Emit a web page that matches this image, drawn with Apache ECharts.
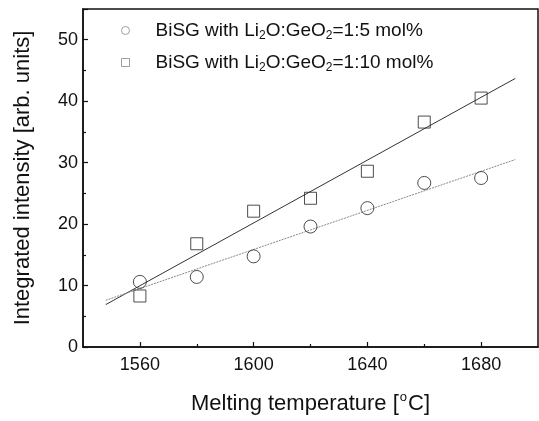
<!DOCTYPE html>
<html>
<head>
<meta charset="utf-8">
<script src="https://cdn.jsdelivr.net/npm/echarts@6/dist/echarts.min.js"></script>
<style>html,body{margin:0;padding:0;background:#fff}#c{width:539px;height:421px}</style>
</head>
<body>
<div id="c"></div>
<script>
var temps = [1560, 1580, 1600, 1620, 1640, 1660, 1680];
var ratio5 = [10.6, 11.4, 14.75, 19.6, 22.6, 26.7, 27.5];
var ratio10 = [8.3, 16.8, 22.1, 24.2, 28.6, 36.6, 40.5];
var fitX = [1548, 1692];
var fit5 = [7.6, 30.5];
var fit10 = [6.9, 43.7];
var xMajorTicks = [1560, 1600, 1640, 1680];
var xMinorTicks = [1580, 1620, 1660];
var seriesNames = ['BiSG with Li2O:GeO2=1:5 mol%', 'BiSG with Li2O:GeO2=1:10 mol%'];
var legendRich = ['BiSG with Li{sub|2}O:GeO{sub|2}=1:5 mol%', 'BiSG with Li{sub|2}O:GeO{sub|2}=1:10 mol%'];

function pairs(xs, ys) { return xs.map(function (x, i) { return [x, ys[i]]; }); }

var FONT = '"Liberation Sans", Arial, sans-serif';
var chart = echarts.init(document.getElementById('c'), null, { renderer: 'canvas' });
var axisLine = { show: true, lineStyle: { color: '#111', width: 1.5 } };
chart.setOption({
  animation: false,
  backgroundColor: '#fff',
  textStyle: { fontFamily: FONT, color: '#111' },
  grid: { left: 83, right: 1, top: 9, bottom: 74, show: true, borderColor: '#111', borderWidth: 1.5, backgroundColor: 'transparent' },
  legend: {
    orient: 'vertical', left: 116, top: 16, itemGap: 11,
    itemWidth: 8, itemHeight: 8,
    data: [{ name: seriesNames[0], icon: 'circle' }, { name: seriesNames[1], icon: 'rect' }],
    itemStyle: { color: '#fff', borderColor: '#888', borderWidth: 1 },
    formatter: function (n) { return legendRich[seriesNames.indexOf(n)]; },
    textStyle: {
      fontFamily: FONT, fontSize: 19, color: '#111', padding: [0, 0, 0, 21],
      rich: { sub: { fontFamily: FONT, fontSize: 12, color: '#111', padding: [11, 0, 0, 0] } }
    }
  },
  xAxis: [{
    type: 'value', min: 1540, max: 1700,
    axisLine: axisLine,
    axisTick: { show: true, inside: true, length: 5, lineStyle: { color: '#111', width: 1.2 }, customValues: xMajorTicks },
    axisLabel: { fontFamily: FONT, fontSize: 18, color: '#111', margin: 9, customValues: xMajorTicks,
      formatter: function (v) { return String(v); } },
    splitLine: { show: false },
    name: '{n|Melting temperature [}{sup|o}{n|C]}',
    nameLocation: 'middle', nameGap: 44,
    nameTextStyle: {
      rich: {
        n: { fontFamily: FONT, fontSize: 22, color: '#111' },
        sup: { fontFamily: FONT, fontSize: 13, color: '#111', padding: [0, 1, 12, 1] }
      }
    }
  }, {
    type: 'value', min: 1540, max: 1700, position: 'bottom',
    axisLine: { show: false },
    axisTick: { show: true, inside: true, length: 3, lineStyle: { color: '#111', width: 1.2 }, customValues: xMinorTicks },
    axisLabel: { show: false },
    splitLine: { show: false }
  }],
  yAxis: {
    type: 'value', min: 0, max: 55, interval: 10,
    axisLine: axisLine,
    axisTick: { show: true, inside: true, length: 5, lineStyle: { color: '#111', width: 1.2 } },
    minorTick: { show: true, splitNumber: 2, length: 3, lineStyle: { color: '#111', width: 1.2 } },
    axisLabel: { fontFamily: FONT, fontSize: 18, color: '#111', margin: 5, showMaxLabel: false },
    splitLine: { show: false },
    name: 'Integrated intensity [arb. units]',
    nameLocation: 'middle', nameGap: 49,
    nameTextStyle: { fontFamily: FONT, fontSize: 22, color: '#111' }
  },
  series: [
    { type: 'line', data: pairs(fitX, fit10), showSymbol: false, symbol: 'none', lineStyle: { color: '#333', width: 1 }, silent: true, z: 1 },
    { type: 'line', data: pairs(fitX, fit5), showSymbol: false, symbol: 'none', lineStyle: { color: '#888', width: 1, type: [2, 1] }, silent: true, z: 1 },
    { name: seriesNames[0], type: 'scatter', symbol: 'circle', symbolSize: 13, data: pairs(temps, ratio5),
      itemStyle: { color: 'rgba(0,0,0,0)', borderColor: '#222', borderWidth: 1 }, z: 3 },
    { name: seriesNames[1], type: 'scatter', symbol: 'rect', symbolSize: 12, data: pairs(temps, ratio10),
      itemStyle: { color: 'rgba(0,0,0,0)', borderColor: '#222', borderWidth: 1 }, z: 3 }
  ]
});
</script>
</body>
</html>
